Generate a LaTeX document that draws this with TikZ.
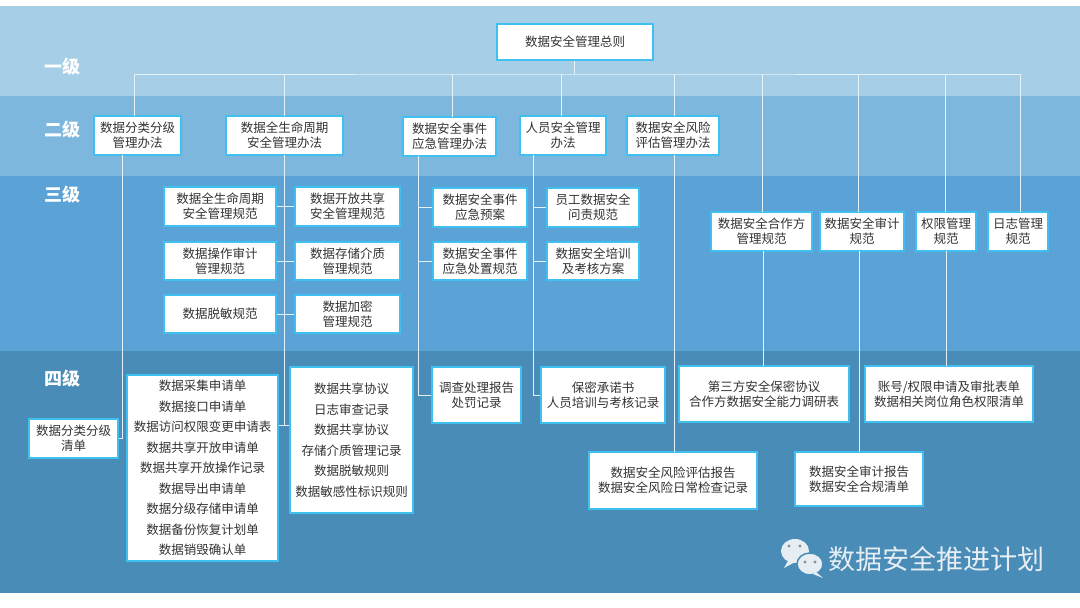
\documentclass[tikz,border=0pt]{standalone}
\usepackage{fontspec}
\setmainfont{Noto Sans CJK SC}
\definecolor{bA}{HTML}{A6CFE7}
\definecolor{bB}{HTML}{7EB7DE}
\definecolor{bC}{HTML}{5BA3D6}
\definecolor{bD}{HTML}{4A8CB8}
\definecolor{brd}{HTML}{40C0F0}
\definecolor{lnc}{HTML}{E4F2FA}
\definecolor{wm}{HTML}{E6EEF3}
\begin{document}
\begin{tikzpicture}[x=1pt,y=-1pt,
  bx/.style={draw=brd,line width=1.2pt,fill=white,font=\fontsize{12.5}{15}\selectfont,text=black!80,align=center,inner sep=0pt},
  ln/.style={draw=lnc,line width=0.9pt},
  lvl/.style={text=white,font=\fontsize{18}{20}\selectfont\bfseries,anchor=center}]
\useasboundingbox (0,0) rectangle (1080,608);
\fill[white] (0,0) rectangle (1080,608);
\fill[bA] (0,6) rectangle (1080,96);
\fill[bB] (0,96) rectangle (1080,176);
\fill[bC] (0,176) rectangle (1080,351);
\fill[bD] (0,351) rectangle (1080,593);
\node[lvl] at (62,67) {一级};
\node[lvl] at (62,130) {二级};
\node[lvl] at (62,195) {三级};
\node[lvl] at (62,379) {四级};
\newcommand\bxn[6]{\node[bx,minimum width=#3-#2,minimum height=#5-#4] (#1) at ({(#2+#3)/2},{(#4+#5)/2}) {#6};}
\bxn{top}{497}{653}{24}{60}{数据安全管理总则}
\bxn{a}{94}{181}{116}{155}{数据分类分级\\管理办法}
\bxn{b}{226}{343}{116}{155}{数据全生命周期\\安全管理办法}
\bxn{c}{403}{496}{117}{156}{数据安全事件\\应急管理办法}
\bxn{d}{520}{606}{116}{155}{人员安全管理\\办法}
\bxn{e}{627}{719}{116}{155}{数据安全风险\\评估管理办法}
\bxn{b1}{164}{276}{187}{226}{数据全生命周期\\安全管理规范}
\bxn{b2}{295}{400}{187}{226}{数据开放共享\\安全管理规范}
\bxn{b3}{164}{276}{242}{280}{数据操作审计\\管理规范}
\bxn{b4}{295}{400}{242}{280}{数据存储介质\\管理规范}
\bxn{b5}{164}{276}{295}{333}{数据脱敏规范}
\bxn{b6}{295}{400}{295}{333}{数据加密\\管理规范}
\bxn{c1}{433}{527}{188}{227}{数据安全事件\\应急预案}
\bxn{c2}{433}{527}{242}{280}{数据安全事件\\应急处置规范}
\bxn{d1}{547}{639}{188}{227}{员工数据安全\\问责规范}
\bxn{d2}{547}{639}{242}{280}{数据安全培训\\及考核方案}
\bxn{f}{711}{812}{212}{251}{数据安全合作方\\管理规范}
\bxn{g}{820}{904}{212}{251}{数据安全审计\\规范}
\bxn{h}{916}{976}{212}{251}{权限管理\\规范}
\bxn{i}{988}{1048}{212}{251}{日志管理\\规范}
\bxn{a4}{29}{118}{419}{458}{数据分类分级\\清单}
\node[bx,minimum width=151,minimum height=186,font=\fontsize{12.5}{20.5}\selectfont] (b7) at (202.5,468) {数据采集申请单\\数据接口申请单\\数据访问权限变更申请表\\数据共享开放申请单\\数据共享开放操作记录\\数据导出申请单\\数据分级存储申请单\\数据备份恢复计划单\\数据销毁确认单};
\node[bx,minimum width=123,minimum height=146,font=\fontsize{12.5}{20.5}\selectfont] (b8) at (351.5,440) {数据共享协议\\日志审查记录\\数据共享协议\\存储介质管理记录\\数据脱敏规则\\数据敏感性标识规则};
\bxn{c4}{432}{521}{367}{423}{调查处理报告\\处罚记录}
\bxn{d4}{541}{665}{367}{423}{保密承诺书\\人员培训与考核记录}
\bxn{e4}{589}{757}{452}{509}{数据安全风险评估报告\\数据安全风险日常检查记录}
\bxn{f4}{679}{849}{366}{422}{第三方安全保密协议\\合作方数据安全能力调研表}
\bxn{g4}{795}{923}{452}{506}{数据安全审计报告\\数据安全合规清单}
\bxn{h4}{865}{1033}{366}{422}{账号/权限申请及审批表单\\数据相关岗位角色权限清单}
% connectors
\coordinate (bus) at (574,74);
\draw[ln] (top.south -| bus) -- (bus);
\draw[ln] (134,116) |- (bus) -| (1020,212);
\foreach \x/\y in {284/116,452/117,561/116,674/116,762/212,858/212,945/212} \draw[ln] (\x,\y) -- (\x,74);
\draw[ln] (122,155) |- (a4.east);
\draw[ln] (284,155) -- (284,425) -- (b8.west |- 0,425);
\draw[ln] (284,425) -- (b7.east |- 0,425);
\draw[ln] (b1.east) -- (b2.west);
\draw[ln] (b3.east) -- (b4.west);
\draw[ln] (b5.east) -- (b6.west);
\draw[ln] (418,156) |- (c4.west);
\draw[ln] (418,0 |- c1.west) -- (c1.west);
\draw[ln] (418,0 |- c2.west) -- (c2.west);
\draw[ln] (533,155) |- (d4.west);
\draw[ln] (533,0 |- d1.west) -- (d1.west);
\draw[ln] (533,0 |- d2.west) -- (d2.west);
\draw[ln] (674,155) -- (674,452);
\draw[ln] (763,251) -- (763,366);
\draw[ln] (859,251) -- (859,452);
\draw[ln] (946,251) -- (946,366);
% watermark
\fill[wm] (795,551) ellipse (14 and 12);
\fill[wm] (789,559) -- (784,568) -- (797,561) -- cycle;
\draw[line width=1.5pt,draw=bD,fill=wm] (810,564) ellipse (13 and 11);
\fill[wm] (816,572) -- (823,578) -- (813,574) -- cycle;
\foreach \p in {(789,546),(800,546),(805,562),(815,562)} \fill[black!45] \p circle (1.6);
\node[text=wm,font=\fontsize{27}{28}\selectfont,anchor=west] at (825,559) {数据安全推进计划};
\end{tikzpicture}
\end{document}
